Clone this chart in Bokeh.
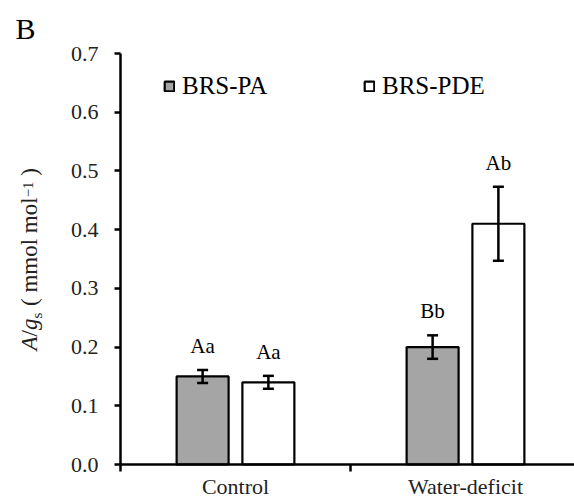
import numpy as np
from bokeh.plotting import figure
from bokeh.models import (Range1d, FixedTicker, ColumnDataSource, Whisker, TeeHead,
                          Legend, LegendItem, Label, NumeralTickFormatter)
from bokeh.core.properties import value
from bokeh.embed import file_html
from bokeh.resources import INLINE

# ---- data ----
categories = ["Control", "Water-deficit"]
series_names = ["BRS-PA", "BRS-PDE"]
pa_values = [0.15, 0.20]
pde_values = [0.14, 0.41]
pa_errors = [0.011, 0.020]
pde_errors = [0.011, 0.063]
pa_letters = ["Aa", "Bb"]
pde_letters = ["Aa", "Ab"]
y_ticks = [0.0, 0.1, 0.2, 0.3, 0.4, 0.5, 0.6, 0.7]

FONT = "Liberation Serif"
GRAY = "#a5a5a5"

# ---- layout: the frame covers the whole canvas; axes are pinned at 0 ----
W, H = 574, 500
AX_LEFT, AX_TOP, AX_BOTTOM = 120, 53, 464      # pixel positions of the axes
CAT_PX = 230.0                                  # pixels per category
Y_MAX = 0.7
px_per_y = (AX_BOTTOM - AX_TOP) / Y_MAX
x_start = -AX_LEFT / CAT_PX
x_end = (W - AX_LEFT) / CAT_PX
y_start = -(H - AX_BOTTOM) / px_per_y
y_end = Y_MAX + AX_TOP / px_per_y

p = figure(width=W, height=H, output_backend="svg", toolbar_location=None,
           x_range=Range1d(x_start, x_end), y_range=Range1d(y_start, y_end),
           min_border=0)
p.outline_line_color = None
p.xgrid.visible = False
p.ygrid.visible = False
p.background_fill_color = "white"
p.border_fill_color = "white"

centers = np.arange(len(categories)) + 0.5
offset = 0.143
bar_w = 0.226

fills = [GRAY, "white"]
renderers = []
for vals, errs, letters, off, fill in [
        (pa_values, pa_errors, pa_letters, -offset, fills[0]),
        (pde_values, pde_errors, pde_letters, offset, fills[1])]:
    vals = np.array(vals)
    errs = np.array(errs)
    src = ColumnDataSource(dict(x=centers + off, top=vals,
                                upper=vals + errs, lower=vals - errs,
                                letters=letters))
    r = p.vbar(x="x", top="top", width=bar_w, source=src,
               fill_color=fill, line_color="black", line_width=2.2)
    renderers.append(r)
    wk = Whisker(source=src, base="x", upper="upper", lower="lower",
                 line_width=2.5, line_color="black", level="overlay",
                 upper_head=TeeHead(size=11, line_width=2.5, line_color="black"),
                 lower_head=TeeHead(size=11, line_width=2.5, line_color="black"))
    p.add_layout(wk)
    p.text(x="x", y="upper", text="letters", source=src,
           text_align="center", text_baseline="alphabetic", y_offset=-24,
           text_font=value(FONT), text_font_size="21px", text_color="black")

# ---- axes ----
ya = p.yaxis[0]
ya.fixed_location = 0
ya.bounds = (0, Y_MAX)
ya.ticker = FixedTicker(ticks=y_ticks)
ya.formatter = NumeralTickFormatter(format="0.0")
ya.axis_line_width = 2.5
ya.axis_line_color = "black"
ya.major_tick_line_width = 2.5
ya.major_tick_line_color = "black"
ya.major_tick_out = 6
ya.major_tick_in = 0
ya.minor_tick_line_color = None
ya.major_label_standoff = 16
ya.major_label_text_font = FONT
ya.major_label_text_font_size = "22px"
ya.major_label_text_color = "#222222"

xa = p.xaxis[0]
xa.fixed_location = 0
xa.bounds = (0, len(categories))
xa.ticker = FixedTicker(ticks=list(centers), minor_ticks=list(range(len(categories) + 1)))
xa.major_label_overrides = {float(c): name for c, name in zip(centers, categories)}
xa.axis_line_width = 2.5
xa.axis_line_color = "black"
xa.major_tick_out = 0
xa.major_tick_in = 0
xa.minor_tick_out = 7
xa.minor_tick_in = 0
xa.minor_tick_line_width = 2.5
xa.minor_tick_line_color = "black"
xa.major_label_standoff = 2
xa.major_label_text_font = FONT
xa.major_label_text_font_size = "22px"
xa.major_label_text_color = "#222222"

# ---- legend ----
legend = Legend(items=[LegendItem(label=series_names[0], renderers=[renderers[0]]),
                       LegendItem(label=series_names[1], renderers=[renderers[1]])],
                orientation="horizontal", location=(AX_LEFT + 43, 400),
                glyph_width=12, glyph_height=12, label_standoff=7,
                label_width=181, spacing=0, padding=0, margin=0,
                border_line_color=None, background_fill_color=None,
                background_fill_alpha=0,
                label_text_font=FONT, label_text_font_size="25px",
                label_text_color="black")
p.add_layout(legend)

# ---- panel letter ----
p.add_layout(Label(x=15, y=44, x_units="canvas", y_units="canvas", text="B",
                   text_font=FONT, text_font_size="30px", text_color="black",
                   text_baseline="bottom"))

# ---- y axis title, rotated, built from pieces (text drawn bottom-to-top) ----
FS = 23
SUB = 15
pieces = [  # text, style, size, baseline shift (+ = below baseline), advance
    ("A", "italic", FS, 0, 0.611 * FS),
    ("/", "normal", FS, 0, 0.278 * FS),
    ("g", "italic", FS, 0, 0.5 * FS),
    ("s", "normal", SUB, 4, 0.389 * SUB + 1 + 0.25 * FS),
    ("( mmol mol", "normal", FS, 0, 4.723 * FS),
    ("\u22121", "normal", SUB, -8, 1.064 * SUB + 0.25 * FS),
    (")", "normal", FS, 0, 0.333 * FS),
]
baseline_x = 37
pos = 350
for txt, style, size, shift, adv in pieces:
    descent = 0.216 * size
    p.add_layout(Label(x=baseline_x + shift + descent, y=pos,
                       x_units="canvas", y_units="canvas",
                       text=txt, angle=np.pi / 2, text_font=FONT,
                       text_font_style=style, text_font_size=f"{size}px",
                       text_color="#222222", text_align="left",
                       text_baseline="bottom"))
    pos -= adv

open("out.html", "w").write(file_html(p, INLINE))
